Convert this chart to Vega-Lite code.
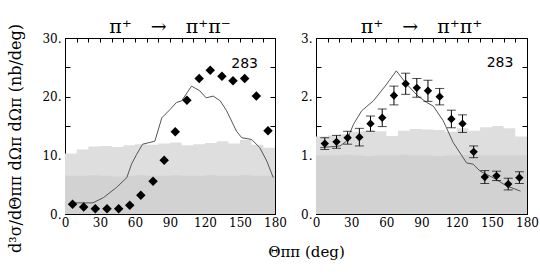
{
  "$schema": "https://vega.github.io/schema/vega-lite/v6.json",
  "padding": {"left": 8, "top": 17, "right": 5, "bottom": 2},
  "background": "white",
  "config": {
    "font": "DejaVu Serif",
    "view": {"stroke": "black", "strokeWidth": 1},
    "axis": {"domain": false, "grid": false, "tickColor": "black", "tickSize": -4, "labelColor": "black", "labelFontSize": 12, "labelFont": "DejaVu Serif", "labelFlush": false, "labelOverlap": false, "labelPadding": 7, "titleFont": "DejaVu Serif", "titleFontWeight": "normal", "titleColor": "black"},
    "title": {"font": "DejaVu Serif", "fontWeight": "normal", "color": "black"}
  },
  "title": {"text": "d³σ/dΘππ dΩπ dΩπ (nb/deg)", "orient": "left", "fontSize": 16, "anchor": "middle", "offset": 17},
  "bounds": "flush",
  "spacing": 41,
  "datasets": {
    "histL": [
      {"x": 0, "hi": 10.3, "lo": 6.5}, {"x": 10, "hi": 11.0, "lo": 6.5}, {"x": 20, "hi": 11.5, "lo": 6.6},
      {"x": 30, "hi": 11.6, "lo": 6.5}, {"x": 40, "hi": 11.4, "lo": 6.4}, {"x": 50, "hi": 11.7, "lo": 6.5},
      {"x": 60, "hi": 11.9, "lo": 6.6}, {"x": 70, "hi": 11.8, "lo": 6.5}, {"x": 80, "hi": 12.0, "lo": 6.5},
      {"x": 90, "hi": 12.2, "lo": 6.6}, {"x": 100, "hi": 11.7, "lo": 6.5}, {"x": 110, "hi": 11.9, "lo": 6.5},
      {"x": 120, "hi": 12.1, "lo": 6.6}, {"x": 130, "hi": 12.4, "lo": 6.5}, {"x": 140, "hi": 12.0, "lo": 6.5},
      {"x": 150, "hi": 12.6, "lo": 6.6}, {"x": 160, "hi": 11.8, "lo": 6.5}, {"x": 170, "hi": 11.3, "lo": 6.5},
      {"x": 180, "hi": 11.3, "lo": 6.5}
    ],
    "histR": [
      {"x": 0, "hi": 1.32, "lo": 1.0}, {"x": 10, "hi": 1.34, "lo": 1.0}, {"x": 20, "hi": 1.36, "lo": 1.01},
      {"x": 30, "hi": 1.40, "lo": 1.0}, {"x": 40, "hi": 1.42, "lo": 0.99}, {"x": 50, "hi": 1.41, "lo": 1.0},
      {"x": 60, "hi": 1.33, "lo": 1.0}, {"x": 70, "hi": 1.42, "lo": 1.01}, {"x": 80, "hi": 1.45, "lo": 1.0},
      {"x": 90, "hi": 1.44, "lo": 1.0}, {"x": 100, "hi": 1.43, "lo": 0.99}, {"x": 110, "hi": 1.40, "lo": 1.0},
      {"x": 120, "hi": 1.46, "lo": 1.0}, {"x": 130, "hi": 1.42, "lo": 1.01}, {"x": 140, "hi": 1.48, "lo": 1.0},
      {"x": 150, "hi": 1.50, "lo": 1.0}, {"x": 160, "hi": 1.46, "lo": 1.0}, {"x": 170, "hi": 1.32, "lo": 1.0},
      {"x": 180, "hi": 1.32, "lo": 1.0}
    ],
    "ptsL": [
      {"x": 6.5, "y": 1.65}, {"x": 16, "y": 1.2}, {"x": 26, "y": 0.9}, {"x": 36, "y": 0.9}, {"x": 46, "y": 0.9},
      {"x": 55.5, "y": 1.5}, {"x": 65, "y": 3.2}, {"x": 75.5, "y": 5.6}, {"x": 85, "y": 9.15}, {"x": 94.5, "y": 14.0},
      {"x": 104.5, "y": 19.4}, {"x": 115, "y": 23.1}, {"x": 124.5, "y": 24.5}, {"x": 134.5, "y": 23.5},
      {"x": 144, "y": 22.7}, {"x": 154, "y": 23.1}, {"x": 164, "y": 20.1}, {"x": 174, "y": 14.2}
    ],
    "ptsR": [
      {"x": 7.5, "y": 1.20, "lo": 1.10, "hi": 1.30}, {"x": 17.5, "y": 1.23, "lo": 1.12, "hi": 1.34},
      {"x": 27, "y": 1.30, "lo": 1.19, "hi": 1.41}, {"x": 37, "y": 1.31, "lo": 1.16, "hi": 1.46},
      {"x": 46.5, "y": 1.54, "lo": 1.41, "hi": 1.67}, {"x": 56.5, "y": 1.64, "lo": 1.49, "hi": 1.79},
      {"x": 66.5, "y": 2.02, "lo": 1.86, "hi": 2.18}, {"x": 76.5, "y": 2.22, "lo": 2.04, "hi": 2.40},
      {"x": 86, "y": 2.15, "lo": 1.99, "hi": 2.31}, {"x": 95.5, "y": 2.10, "lo": 1.92, "hi": 2.28},
      {"x": 105.5, "y": 2.00, "lo": 1.86, "hi": 2.14}, {"x": 115.5, "y": 1.62, "lo": 1.47, "hi": 1.77},
      {"x": 125, "y": 1.54, "lo": 1.39, "hi": 1.69}, {"x": 134.5, "y": 1.06, "lo": 0.96, "hi": 1.16},
      {"x": 144, "y": 0.63, "lo": 0.52, "hi": 0.74}, {"x": 154, "y": 0.65, "lo": 0.57, "hi": 0.73},
      {"x": 164, "y": 0.51, "lo": 0.41, "hi": 0.61}, {"x": 173.5, "y": 0.62, "lo": 0.52, "hi": 0.72}
    ],
    "thL": [
      {"x": 5, "y": 1.9}, {"x": 24, "y": 1.9}, {"x": 33, "y": 2.8}, {"x": 44, "y": 4.5}, {"x": 53, "y": 6.2},
      {"x": 57, "y": 8.5}, {"x": 61.5, "y": 10.2}, {"x": 66.5, "y": 11.9}, {"x": 77, "y": 12.4}, {"x": 83, "y": 16.4},
      {"x": 90, "y": 17.8}, {"x": 95.5, "y": 19.0}, {"x": 100, "y": 19.3}, {"x": 108.5, "y": 21.8}, {"x": 115.5, "y": 21.0},
      {"x": 121, "y": 19.8}, {"x": 127, "y": 20.1}, {"x": 133, "y": 19.3}, {"x": 138.5, "y": 17.6}, {"x": 147, "y": 14.1},
      {"x": 151.5, "y": 13.0}, {"x": 160, "y": 12.7}, {"x": 167, "y": 11.3}, {"x": 173, "y": 9.0}, {"x": 178.5, "y": 6.2}
    ],
    "thR": [
      {"x": 3.5, "y": 1.13}, {"x": 20.5, "y": 1.16}, {"x": 26, "y": 1.24}, {"x": 32, "y": 1.53}, {"x": 39, "y": 1.76},
      {"x": 49, "y": 1.93}, {"x": 59, "y": 2.18}, {"x": 68.5, "y": 2.44}, {"x": 77.5, "y": 2.21}, {"x": 87, "y": 2.01},
      {"x": 94.5, "y": 1.90}, {"x": 100, "y": 1.84}, {"x": 108.5, "y": 1.59}, {"x": 117, "y": 1.22}, {"x": 128.5, "y": 0.87},
      {"x": 134, "y": 0.85}, {"x": 140, "y": 0.73}, {"x": 151, "y": 0.62}, {"x": 162.5, "y": 0.48}, {"x": 174.5, "y": 0.39}
    ]
  },
  "hconcat": [
    {
      "width": 210, "height": 176,
      "title": {"text": "π⁺\u2003→\u2003π⁺π⁻", "fontSize": 19, "offset": -5, "anchor": "middle", "frame": "group"},
      "resolve": {"axis": {"x": "independent", "y": "independent"}},
      "layer": [
        {
          "data": {"name": "histL"},
          "mark": {"type": "area", "interpolate": "step-after", "color": "#dedede"},
          "encoding": {
            "x": {"field": "x", "type": "quantitative", "scale": {"domain": [0, 180], "nice": false, "zero": false},
                  "axis": {"orient": "bottom", "values": [0,10,20,30,40,50,60,70,80,90,100,110,120,130,140,150,160,170,180], "labelExpr": "datum.value % 30 === 0 ? datum.label : ''", "title": "Θππ (deg)", "titleFontSize": 15, "titleX": 241, "titleY": 30, "titleBaseline": "top", "titleAlign": "center"}},
            "y": {"field": "hi", "type": "quantitative", "scale": {"domain": [0, 30], "nice": false},
                  "axis": {"orient": "left", "values": [0,5,10,15,20,25,30], "tickSize": -5, "labelPadding": 9, "labelExpr": "datum.value % 10 === 0 ? datum.value + '.' : ''", "title": null}}
          }
        },
        {
          "data": {"name": "histL"},
          "mark": {"type": "area", "interpolate": "step-after", "color": "#d2d2d2"},
          "encoding": {
            "x": {"field": "x", "type": "quantitative",
                  "axis": {"orient": "top", "values": [0,10,20,30,40,50,60,70,80,90,100,110,120,130,140,150,160,170,180], "labels": false, "title": null, "maxExtent": 0, "minExtent": 0}},
            "y": {"field": "lo", "type": "quantitative",
                  "axis": {"orient": "right", "values": [0,5,10,15,20,25,30], "tickSize": -5, "labels": false, "title": null, "maxExtent": 0, "minExtent": 0}}
          }
        },
        {
          "data": {"name": "thL"},
          "mark": {"type": "line", "color": "#555555", "strokeWidth": 1},
          "encoding": {
            "x": {"field": "x", "type": "quantitative", "axis": null},
            "y": {"field": "y", "type": "quantitative", "axis": null}
          }
        },
        {
          "data": {"name": "ptsL"},
          "mark": {"type": "point", "shape": "diamond", "filled": true, "color": "black", "size": 90, "opacity": 1},
          "encoding": {
            "x": {"field": "x", "type": "quantitative", "axis": null},
            "y": {"field": "y", "type": "quantitative", "axis": null}
          }
        },
        {
          "data": {"values": [{}]},
          "mark": {"type": "text", "font": "DejaVu Sans", "fontSize": 14, "color": "black"},
          "encoding": {
            "x": {"datum": 154, "type": "quantitative", "axis": null},
            "y": {"datum": 25.6, "type": "quantitative", "axis": null},
            "text": {"value": "283"}
          }
        }
      ]
    },
    {
      "width": 211, "height": 176,
      "title": {"text": "π⁺\u2003→\u2003π⁺π⁺", "fontSize": 19, "offset": -5, "anchor": "middle", "frame": "group"},
      "resolve": {"axis": {"x": "independent", "y": "independent"}},
      "layer": [
        {
          "data": {"name": "histR"},
          "mark": {"type": "area", "interpolate": "step-after", "color": "#dedede"},
          "encoding": {
            "x": {"field": "x", "type": "quantitative", "scale": {"domain": [0, 180], "nice": false, "zero": false},
                  "axis": {"orient": "bottom", "values": [0,10,20,30,40,50,60,70,80,90,100,110,120,130,140,150,160,170,180], "labelExpr": "datum.value % 30 === 0 ? datum.label : ''", "title": null}},
            "y": {"field": "hi", "type": "quantitative", "scale": {"domain": [0, 3], "nice": false},
                  "axis": {"orient": "left", "values": [0,0.5,1,1.5,2,2.5,3], "tickSize": -5, "labelPadding": 9, "labelExpr": "datum.value % 1 === 0 ? datum.value + '.' : ''", "title": null}}
          }
        },
        {
          "data": {"name": "histR"},
          "mark": {"type": "area", "interpolate": "step-after", "color": "#d2d2d2"},
          "encoding": {
            "x": {"field": "x", "type": "quantitative",
                  "axis": {"orient": "top", "values": [0,10,20,30,40,50,60,70,80,90,100,110,120,130,140,150,160,170,180], "labels": false, "title": null, "maxExtent": 0, "minExtent": 0}},
            "y": {"field": "lo", "type": "quantitative",
                  "axis": {"orient": "right", "values": [0,0.5,1,1.5,2,2.5,3], "tickSize": -5, "labels": false, "title": null, "maxExtent": 0, "minExtent": 0}}
          }
        },
        {
          "data": {"name": "thR"},
          "mark": {"type": "line", "color": "#555555", "strokeWidth": 1},
          "encoding": {
            "x": {"field": "x", "type": "quantitative", "axis": null},
            "y": {"field": "y", "type": "quantitative", "axis": null}
          }
        },
        {
          "data": {"name": "ptsR"},
          "mark": {"type": "errorbar", "ticks": {"size": 9}, "color": "black"},
          "encoding": {
            "x": {"field": "x", "type": "quantitative", "axis": null},
            "y": {"field": "lo", "type": "quantitative", "axis": null},
            "y2": {"field": "hi"}
          }
        },
        {
          "data": {"name": "ptsR"},
          "mark": {"type": "point", "shape": "diamond", "filled": true, "color": "black", "size": 70, "opacity": 1},
          "encoding": {
            "x": {"field": "x", "type": "quantitative", "axis": null},
            "y": {"field": "y", "type": "quantitative", "axis": null}
          }
        },
        {
          "data": {"values": [{}]},
          "mark": {"type": "text", "font": "DejaVu Sans", "fontSize": 14, "color": "black"},
          "encoding": {
            "x": {"datum": 157, "type": "quantitative", "axis": null},
            "y": {"datum": 2.58, "type": "quantitative", "axis": null},
            "text": {"value": "283"}
          }
        }
      ]
    }
  ]
}
